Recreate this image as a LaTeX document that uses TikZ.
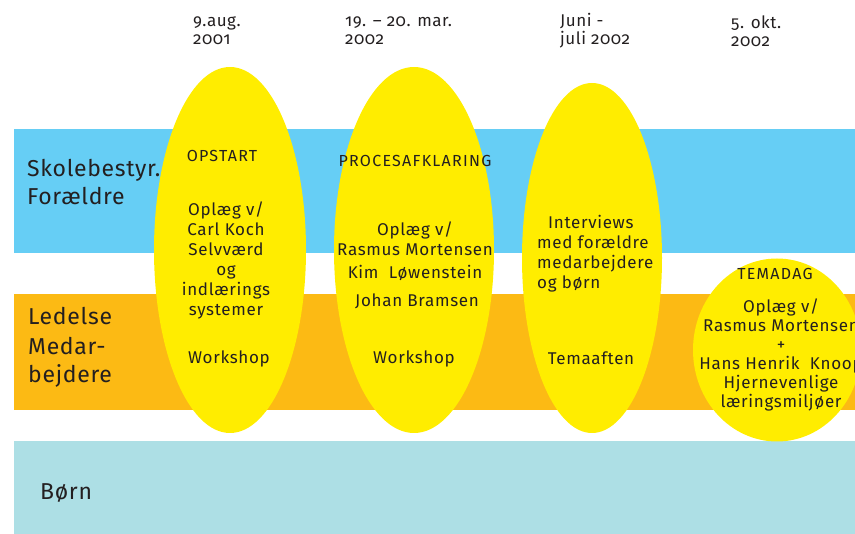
\documentclass[tikz,border=0pt]{standalone}
\usepackage{fontspec}
\setmainfont{Fira Sans}[Numbers=OldStyle,LetterSpace=4]
\newfontfamily\capsfont{Fira Sans}[LetterSpace=8]
\newfontfamily\labelfont{Fira Sans}[Numbers=OldStyle,LetterSpace=3]
\usetikzlibrary{shapes.geometric}
\definecolor{skyband}{RGB}{102,206,245}
\definecolor{orangeband}{RGB}{252,186,20}
\definecolor{childband}{RGB}{173,223,229}
\definecolor{sunyellow}{RGB}{255,237,0}
\definecolor{ink}{RGB}{35,31,32}
\begin{document}
\begin{tikzpicture}[x=1pt,y=-1pt,text=ink,inner sep=0pt,font=\fontsize{17}{20}\selectfont,
  oval/.style={ellipse,fill=sunyellow},
  lbl/.style={anchor=west,align=left,font=\labelfont\fontsize{23}{28}\selectfont},
  datelbl/.style={anchor=west,align=left,font=\labelfont\fontsize{17}{18}\selectfont},
  head/.style={font=\capsfont\fontsize{16}{19}\selectfont},
  txt/.style={align=center}]
\useasboundingbox (0,0) rectangle (855,534);
\clip (0,0) rectangle (855,534);
%\draw[gray!30] (0,0) grid[step=50] (855,534);
\fill[skyband] (14,129) rectangle (855,253);
\fill[orangeband] (14,294) rectangle (855,410);
\fill[childband] (14,441) rectangle (855,534);
\node[oval,minimum width=152,minimum height=366] (e1) at (230,250) {};
\node[oval,minimum width=160,minimum height=366] (e2) at (414,250) {};
\node[oval,minimum width=140,minimum height=350] (e3) at (592,258) {};
\node[oval,minimum width=168,minimum height=183] (e4) at (777,350) {};
\node[lbl] (skole) at (27,182) {Skolebestyr.\\Forældre};
\node[lbl] (ledelse) at (28,316) {Ledelse};
\node[lbl] (medarb) at (28,362) {Medar-\\bejdere};
\node[lbl] (boern) at (40,493) {Børn};
\node[datelbl] (d1) at (193,31) {9.aug.\\2001};
\node[datelbl] (d2) at (345,31) {19. – 20. mar.\\2002};
\node[datelbl] (d3) at (560,31) {Juni -\\juli 2002};
\node[datelbl] (d4) at (731,31) {5. okt.\\2002};
\node[head] (opstart) at (222,156) {OPSTART};
\node[txt] (carl) at (226,260) {Oplæg v/\\Carl Koch\\Selvværd\\og\\indlærings\\systemer};
\node (work1) at (229,359) {Workshop};
\node[head] (proces) at (415,161) {PROCESAFKLARING};
\node[txt] (rasmus) at (415,239) {Oplæg v/\\Rasmus Mortensen};
\node (kim) at (415,273) {Kim\ \ Løwenstein};
\node (johan) at (417,301) {Johan Bramsen};
\node (work2) at (414,359) {Workshop};
\node[anchor=west,align=left] (interv) at (537,254) {\hspace{11pt}Interviews\\med forældre\\medarbejdere\\og børn};
\node (tema) at (591,358) {Temaaften};
\node[head] (temadag) at (775,274) {TEMADAG};
\node[txt,font=\fontsize{17}{19}\selectfont] (hans) at (781,355) {Oplæg v/\\Rasmus Mortensen\\+\\Hans Henrik\ \ Knoop\\Hjernevenlige\\læringsmiljøer};
\end{tikzpicture}
\end{document}
